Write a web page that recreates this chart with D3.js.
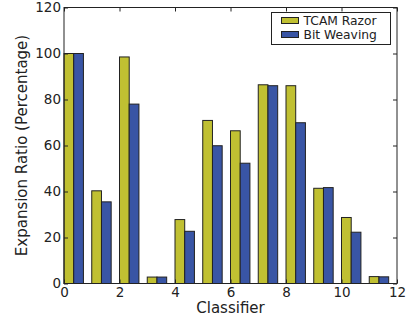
<!DOCTYPE html>
<html>
<head>
<meta charset="utf-8">
<script src="https://cdn.jsdelivr.net/npm/d3@7"></script>
<style>
  body { margin: 0; background: #fff; }
  svg text { font-family: "DejaVu Sans", sans-serif; fill: #222; }
</style>
</head>
<body>
<div id="chart"></div>
<script>
// expansion ratio per classifier, two algorithms side by side
const classifiers = [0, 1, 2, 3, 4, 5, 6, 7, 8, 9, 10, 11];
const tcamRazor = [100, 40.3, 98.5, 2.8, 27.8, 70.9, 66.4, 86.4, 86, 41.4, 28.7, 3.0];
const bitWeaving = [100, 35.5, 78, 2.8, 22.7, 59.9, 52.3, 86, 69.9, 41.7, 22.3, 2.9];
const seriesNames = ['TCAM Razor', 'Bit Weaving'];
const seriesColors = ['#c0c032', '#3955a5'];
const xTicks = [0, 2, 4, 6, 8, 10, 12];
const yTicks = [0, 20, 40, 60, 80, 100, 120];

const W = 420, H = 320;
const margin = { top: 7.5, right: 23, bottom: 36.5, left: 64 };
const width = W - margin.left - margin.right;
const height = H - margin.top - margin.bottom;
const barW = 0.35;

const svg = d3.select('#chart')
  .append('svg')
  .attr('width', W)
  .attr('height', H);

const g = svg.append('g')
  .attr('transform', `translate(${margin.left},${margin.top})`);

const x = d3.scaleLinear().domain([0, 12]).range([0, width]);
const y = d3.scaleLinear().domain([0, 120]).range([height, 0]);

// bars
const series = [tcamRazor, bitWeaving];
series.forEach((vals, s) => {
  g.selectAll(`.bar-${s}`)
    .data(classifiers)
    .enter()
    .append('rect')
    .attr('class', `bar-${s}`)
    .attr('x', d => x(d + s * barW))
    .attr('y', (d, i) => y(vals[i]))
    .attr('width', x(barW) - x(0))
    .attr('height', (d, i) => height - y(vals[i]))
    .attr('fill', seriesColors[s])
    .attr('stroke', '#222')
    .attr('stroke-width', 1);
});

// axes, ticks pointing inward on all four sides
const tickStyle = sel => {
  sel.select('.domain').remove();
  sel.selectAll('line').attr('stroke', '#222');
  sel.selectAll('text').style('font-size', '13.5px').style('fill', '#222');
};

g.append('g')
  .attr('transform', `translate(0,${height})`)
  .call(d3.axisBottom(x).tickValues(xTicks).tickSizeInner(-4).tickSizeOuter(0).tickPadding(4))
  .call(tickStyle);

g.append('g')
  .call(d3.axisTop(x).tickValues(xTicks).tickSizeInner(-4).tickSizeOuter(0).tickFormat(''))
  .call(tickStyle);

g.append('g')
  .call(d3.axisLeft(y).tickValues(yTicks).tickSizeInner(-4).tickSizeOuter(0).tickPadding(3))
  .call(tickStyle);

g.append('g')
  .attr('transform', `translate(${width},0)`)
  .call(d3.axisRight(y).tickValues(yTicks).tickSizeInner(-4).tickSizeOuter(0).tickFormat(''))
  .call(tickStyle);

g.append('rect')
  .attr('width', width)
  .attr('height', height)
  .attr('fill', 'none')
  .attr('stroke', '#222')
  .attr('stroke-width', 1);

// axis labels
svg.append('text')
  .attr('x', margin.left + width / 2)
  .attr('y', 313)
  .attr('text-anchor', 'middle')
  .style('font-size', '15px')
  .text('Classifier');

svg.append('text')
  .attr('transform', `translate(27,${margin.top + height / 2}) rotate(-90)`)
  .attr('text-anchor', 'middle')
  .style('font-size', '15px')
  .text('Expansion Ratio (Percentage)');

// legend
const legend = svg.append('g')
  .attr('transform', 'translate(271.5,12.5)');

legend.append('rect')
  .attr('width', 119)
  .attr('height', 32)
  .attr('fill', '#fff')
  .attr('stroke', '#222');

seriesNames.forEach((name, i) => {
  legend.append('rect')
    .attr('x', 10)
    .attr('y', 5 + i * 14)
    .attr('width', 17)
    .attr('height', 6)
    .attr('fill', seriesColors[i])
    .attr('stroke', '#222');
  legend.append('text')
    .attr('x', 32)
    .attr('y', 12.2 + i * 14)
    .style('font-size', '12.3px')
    .text(name);
});
</script>
</body>
</html>
